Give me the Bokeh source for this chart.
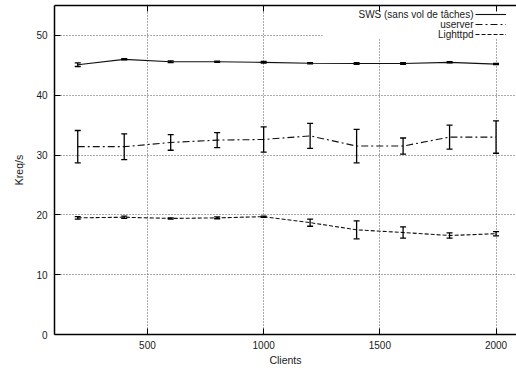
from bokeh.plotting import figure
from bokeh.models import (ColumnDataSource, Whisker, TeeHead, Range1d, LinearAxis,
                          Label, Legend, LegendItem, BoxAnnotation, FixedTicker)
from bokeh.embed import file_html
from bokeh.resources import INLINE

clients = [200, 400, 600, 800, 1000, 1200, 1400, 1600, 1800, 2000]
sws = [45.1, 46.0, 45.6, 45.6, 45.5, 45.35, 45.3, 45.3, 45.5, 45.2]
sws_err = [0.3, 0.1, 0.15, 0.1, 0.15, 0.1, 0.15, 0.15, 0.1, 0.1]
userver = [31.4, 31.4, 32.1, 32.5, 32.6, 33.2, 31.5, 31.5, 33.0, 33.0]
userver_err = [2.7, 2.15, 1.3, 1.25, 2.1, 2.1, 2.8, 1.35, 2.0, 2.7]
lighttpd = [19.5, 19.6, 19.4, 19.5, 19.7, 18.7, 17.5, 17.05, 16.55, 16.85]
lighttpd_err = [0.2, 0.2, 0.1, 0.15, 0.1, 0.6, 1.5, 0.95, 0.45, 0.35]
series_names = ["SWS (sans vol de tâches)", "userver", "Lighttpd"]
x_ticks = [500, 1000, 1500, 2000]
y_ticks = [0, 10, 20, 30, 40, 50]

FONT = "Liberation Sans"
TXT = "#1a1a1a"

p = figure(width=516, height=368, output_backend="svg", toolbar_location=None,
           x_range=Range1d(100, 2088), y_range=Range1d(0, 55),
           min_border_left=54, min_border_right=0, min_border_top=5, min_border_bottom=32)
p.outline_line_color = None
p.background_fill_color = "white"

for ax in (p.xaxis[0], p.yaxis[0]):
    ax.major_tick_in = 6
    ax.major_tick_out = 0
    ax.minor_tick_in = 0
    ax.minor_tick_out = 0
    ax.axis_line_color = "black"
    ax.axis_line_width = 1.5
    ax.major_tick_line_color = "black"
    ax.major_label_text_font = FONT
    ax.major_label_text_font_size = "10px"
    ax.major_label_text_color = TXT
    ax.axis_label_text_font = FONT
    ax.axis_label_text_font_size = "10.5px"
    ax.axis_label_text_font_style = "normal"
    ax.axis_label_text_color = TXT

p.xaxis.ticker = FixedTicker(ticks=x_ticks)
p.yaxis.ticker = FixedTicker(ticks=y_ticks)
p.xaxis.axis_label = "Clients"
p.yaxis.axis_label = "Kreq/s"
p.xaxis.major_label_standoff = 6
p.xaxis.axis_label_standoff = 2
p.yaxis.major_label_standoff = 7
p.yaxis.axis_label_standoff = 8

top = LinearAxis(ticker=FixedTicker(ticks=x_ticks), major_label_text_font_size="1px",
                 major_label_text_color=None,
                 major_tick_in=6, major_tick_out=0, minor_tick_in=0, minor_tick_out=0,
                 major_label_standoff=0, axis_line_color="black", axis_line_width=1.5)
p.add_layout(top, "above")

p.xgrid.ticker = FixedTicker(ticks=x_ticks)
p.ygrid.ticker = FixedTicker(ticks=y_ticks)
for g in (p.xgrid[0], p.ygrid[0]):
    g.grid_line_color = "#555555"
    g.grid_line_dash = "1 2"
    g.grid_line_width = 1

# white legend background covering the grid
p.add_layout(BoxAnnotation(left=268, right=470, top=340, bottom=296,
                           left_units="screen", right_units="screen",
                           top_units="screen", bottom_units="screen",
                           fill_color="white", fill_alpha=1, line_color=None, level="underlay"))

styles = [dict(line_dash="solid"), dict(line_dash="7 3 2 3"), dict(line_dash="4 2")]
data = [(sws, sws_err), (userver, userver_err), (lighttpd, lighttpd_err)]
renderers = []
for (vals, errs), st in zip(data, styles):
    src = ColumnDataSource(dict(x=clients, y=vals,
                                upper=[v + e for v, e in zip(vals, errs)],
                                lower=[v - e for v, e in zip(vals, errs)]))
    r = p.line("x", "y", source=src, line_color="#111111", line_width=1.1, **st)
    renderers.append(r)
    w = Whisker(base="x", upper="upper", lower="lower", source=src,
                line_color="black", line_width=1.3,
                upper_head=TeeHead(size=6, line_color="black", line_width=1.3),
                lower_head=TeeHead(size=6, line_color="black", line_width=1.3))
    w.level = "glyph"
    p.add_layout(w)

for i, name in enumerate(series_names):
    p.add_layout(Label(x=419, y=320 - 10 * i, x_units="screen", y_units="screen",
                       text=name, text_align="right", text_baseline="middle",
                       text_font=FONT, text_font_size="10px", text_color=TXT))

legend = Legend(items=[LegendItem(label=" ", renderers=[r]) for r in renderers],
                location=(421, 295), padding=0, margin=0, spacing=0,
                glyph_width=31, glyph_height=10, label_height=10, label_width=0,
                label_standoff=0, label_text_font_size="10px", label_text_color=None,
                border_line_color=None, background_fill_alpha=0)
p.add_layout(legend, "center")

open("out.html", "w").write(file_html(p, INLINE))
